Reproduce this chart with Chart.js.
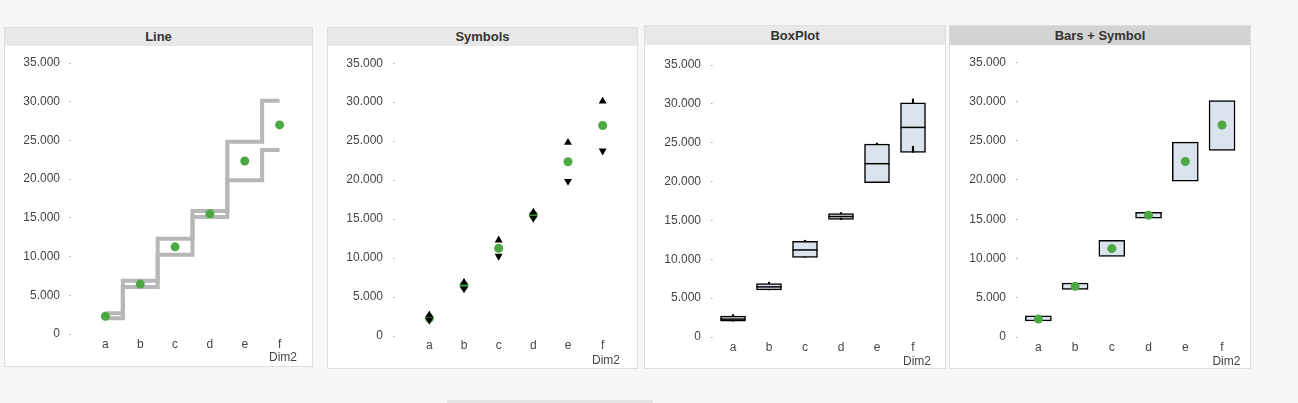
<!DOCTYPE html>
<html>
<head>
<meta charset="utf-8">
<script src="https://cdn.jsdelivr.net/npm/chart.js@4.4.1/dist/chart.umd.min.js"></script>
<style>
  html, body { margin: 0; padding: 0; background: #f7f7f7; width: 1298px; height: 403px; overflow: hidden; }
  body { position: relative; font-family: "Liberation Sans", Arial, sans-serif; }
  .panel { position: absolute; box-sizing: border-box; border: 1px solid #dedede; background: #fff; }
  .hdr { background: #e8e8e8; color: #333; font-weight: bold; font-size: 13px; text-align: center; }
  .hdr.active { background: #d3d3d3; }
  .body { position: absolute; left: 0; right: 0; bottom: 0; }
  .scrollbar { position: absolute; left: 447px; top: 400px; width: 206px; height: 3px; background: #e4e4e4; border-radius: 2px 2px 0 0; }
</style>
</head>
<body>
<div class="panel" style="left:4px;top:27px;width:309px;height:340px">
  <div class="hdr" style="height:18px;line-height:18px">Line</div>
  <div class="body" style="top:18px"><canvas id="lineChart"></canvas></div>
</div>
<div class="panel" style="left:327px;top:27px;width:311px;height:342px">
  <div class="hdr" style="height:18px;line-height:18px">Symbols</div>
  <div class="body" style="top:18px"><canvas id="symbolChart"></canvas></div>
</div>
<div class="panel" style="left:644px;top:25px;width:302px;height:344px">
  <div class="hdr" style="height:19px;line-height:19px">BoxPlot</div>
  <div class="body" style="top:19px"><canvas id="boxChart"></canvas></div>
</div>
<div class="panel" style="left:949px;top:25px;width:302px;height:344px">
  <div class="hdr active" style="height:19px;line-height:19px">Bars + Symbol</div>
  <div class="body" style="top:19px"><canvas id="barChart"></canvas></div>
</div>
<div class="scrollbar"></div>

<script>
// values (Dim2 = a..f)
const categories = ['a', 'b', 'c', 'd', 'e', 'f'];
const midValues = [2280, 6450, 11260, 15520, 22350, 27000];
const lowValues = [2040, 6060, 10250, 15120, 19860, 23760];
const highValues = [2690, 6880, 12300, 15880, 24820, 30120];
const medianValues = [2300, 6450, 11200, 15500, 22300, 26970];
const whiskerLow = [2040, 6060, 10250, 15300, 19860, 24540];
const whiskerHigh = [2880, 7050, 12450, 16020, 24950, 30620];
const yMin = 0;
const yMax = 35000;
const yStep = 5000;
const xTitle = 'Dim2';

const GREEN = '#4ca843';
const BOX_FILL = '#dbe4ee';
const LINE_GREY = '#b7b7b7';

Chart.defaults.font.family = '"Liberation Sans", Arial, sans-serif';
Chart.defaults.font.size = 12;
Chart.defaults.color = '#444';

function fmt(v) {
    return String(v).replace(/\B(?=(\d{3})+(?!\d))/g, '.');
}

// per-panel geometry: y axis width, x axis height, paddings, tick mark length
function baseOptions(g) {
    return {
        responsive: true,
        maintainAspectRatio: false,
        animation: false,
        layout: { padding: { top: g.top, right: g.right, left: 0, bottom: 0 } },
        plugins: { legend: { display: false }, tooltip: { enabled: false } },
        scales: {
            x: {
                type: 'category',
                offset: true,
                grid: { display: false, drawTicks: false },
                border: { display: false },
                ticks: { padding: g.xPad, color: '#444' },
                title: {
                    display: true, text: xTitle, align: 'end', color: '#444',
                    font: { size: 12, lineHeight: 1 }, padding: { top: 0, bottom: g.titlePad }
                },
                afterFit: (s) => { s.height = g.xHeight; }
            },
            y: {
                min: yMin,
                max: yMax,
                border: { display: false },
                grid: {
                    drawOnChartArea: false,
                    drawTicks: true,
                    tickLength: g.tickLen,
                    tickColor: '#a8a8a8',
                    tickWidth: 1,
                    tickBorderDash: [1.5, 100]
                },
                ticks: { stepSize: yStep, padding: g.yPad, color: '#444', callback: (v) => fmt(v) },
                afterFit: (s) => { s.width = g.yWidth; }
            }
        }
    };
}

function dots(data) {
    return {
        type: 'line', data: data, showLine: false, order: 0,
        pointRadius: 4.5, pointHoverRadius: 4.5, pointBackgroundColor: GREEN, pointBorderWidth: 0
    };
}

function makeLineChart() {
    const g = { top: 17, right: 15, xHeight: 32, yWidth: 83, tickLen: 19, yPad: 9, xPad: 3, titlePad: 2 };
    const step = (data) => ({
        data: data, stepped: 'middle', borderColor: LINE_GREY, borderWidth: 4,
        pointRadius: 0, fill: false, order: 1
    });
    new Chart(document.getElementById('lineChart'), {
        type: 'line',
        data: {
            labels: categories,
            datasets: [dots(midValues), step(highValues), step(lowValues)]
        },
        options: baseOptions(g)
    });
}

function makeSymbolChart() {
    const g = { top: 17, right: 17, xHeight: 32, yWidth: 84, tickLen: 19, yPad: 10, xPad: 2, titlePad: 1 };
    const tri = (data, rot) => ({
        data: data, showLine: false, order: 0, pointStyle: 'triangle', rotation: rot,
        pointRadius: 4.6, pointHoverRadius: 4.6, pointBackgroundColor: '#000', pointBorderColor: '#000', pointBorderWidth: 0
    });
    const mid = dots(midValues);
    mid.order = 1;
    new Chart(document.getElementById('symbolChart'), {
        type: 'line',
        data: {
            labels: categories,
            datasets: [mid, tri(highValues, 0), tri(lowValues, 180)]
        },
        options: baseOptions(g)
    });
}

function makeBoxChart() {
    const g = { top: 20, right: 8.5, xHeight: 31, yWidth: 70, tickLen: 4, yPad: 10, xPad: 3, titlePad: 0 };
    const box = categories.map((c, i) => [lowValues[i], highValues[i]]);
    const upper = categories.map((c, i) => [highValues[i], whiskerHigh[i]]);
    const lower = categories.map((c, i) => [lowValues[i], whiskerLow[i]]);
    const whisker = (data) => ({
        type: 'bar', data: data, grouped: false, barThickness: 1.5,
        backgroundColor: '#000', borderWidth: 0, order: 1
    });
    new Chart(document.getElementById('boxChart'), {
        type: 'bar',
        data: {
            labels: categories,
            datasets: [
                {
                    type: 'line', data: medianValues, showLine: false, order: 0, pointStyle: 'line',
                    pointRadius: 12.5, pointHoverRadius: 12.5, pointBorderColor: '#000', pointBorderWidth: 1.5
                },
                whisker(upper),
                whisker(lower),
                {
                    type: 'bar', data: box, grouped: false, barThickness: 25, order: 2,
                    backgroundColor: BOX_FILL, borderColor: '#000', borderWidth: 1.5, borderSkipped: false
                }
            ]
        },
        options: baseOptions(g)
    });
}

function makeBarChart() {
    const g = { top: 17, right: 9.6, xHeight: 31, yWidth: 70, tickLen: 4, yPad: 10, xPad: 3, titlePad: 0 };
    const box = categories.map((c, i) => [lowValues[i], highValues[i]]);
    new Chart(document.getElementById('barChart'), {
        type: 'bar',
        data: {
            labels: categories,
            datasets: [
                dots(midValues),
                {
                    type: 'bar', data: box, grouped: false, barThickness: 26, order: 1,
                    backgroundColor: BOX_FILL, borderColor: '#000', borderWidth: 1.5, borderSkipped: false
                }
            ]
        },
        options: baseOptions(g)
    });
}

makeLineChart();
makeSymbolChart();
makeBoxChart();
makeBarChart();
</script>
</body>
</html>
